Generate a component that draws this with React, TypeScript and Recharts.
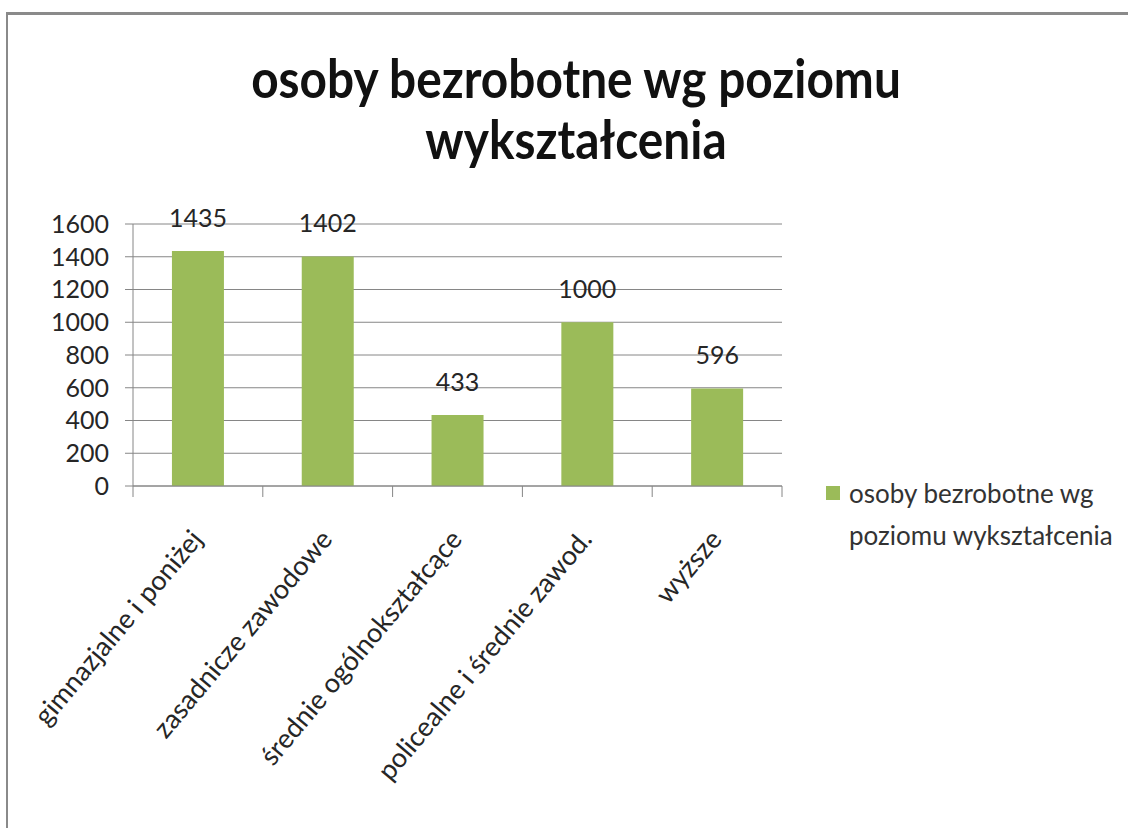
import React from 'react';
import { BarChart, Bar, XAxis, YAxis, CartesianGrid, LabelList } from 'recharts';

const categories = [
  'gimnazjalne i poniżej',
  'zasadnicze zawodowe',
  'średnie ogólnokształcące',
  'policealne i średnie zawod.',
  'wyższe',
];
const values = [1435, 1402, 433, 1000, 596];
const yTicks = [0, 200, 400, 600, 800, 1000, 1200, 1400, 1600];
const boundaryTicks = [0, 0.5, 1, 1.5, 2, 2.5, 3, 3.5, 4, 4.5, 5];
const seriesName = 'osoby bezrobotne wg poziomu wykształcenia';
const titleLines = ['osoby bezrobotne wg poziomu', 'wykształcenia'];
const legendLines = ['osoby bezrobotne wg', 'poziomu wykształcenia'];

// pos = centre of each category on a 0..N boundary scale
const data = categories.map((name, i) => ({ name, pos: i + 0.5, value: values[i] }));

const FONT = 'Lato, "Open Sans", sans-serif';
const GREEN = '#9bbb59';
const AXIS = '#868686';

const BoundaryTick = (props: any) => {
  const { x, y, payload } = props;
  const v = payload.value as number;
  if (Number.isInteger(v)) {
    return <line x1={x} y1={y} x2={x} y2={y + 11} stroke={AXIS} strokeWidth={1} />;
  }
  const label = categories[Math.floor(v)];
  const ax = x + 6;
  const ay = y + 54;
  return (
    <text
      x={ax}
      y={ay}
      transform={`rotate(-50 ${ax} ${ay})`}
      textAnchor="end"
      fontFamily={FONT}
      fontSize={27}
      fill="#262626"
    >
      {label}
    </text>
  );
};

export default function App() {
  return (
    <div style={{ position: 'absolute', left: 0, top: 0, width: 1128, height: 828, overflow: 'hidden', background: '#fff' }}>
      <div
        style={{
          position: 'absolute',
          left: 6,
          top: 12,
          width: 1200,
          height: 900,
          borderTop: '3px solid #8a8a8a',
          borderLeft: '2px solid #8a8a8a',
        }}
      />
      <div
        style={{
          position: 'absolute',
          left: 0,
          width: 1152,
          top: 47,
          textAlign: 'center',
          fontFamily: FONT,
          fontWeight: 700,
          fontSize: 54,
          lineHeight: '61px',
          color: '#111',
          transform: 'scaleX(0.885)',
          transformOrigin: '576px 0',
        }}
      >
        {titleLines.map((t) => (
          <div key={t}>{t}</div>
        ))}
      </div>
      <div style={{ position: 'absolute', left: 0, top: 0 }}>
        <BarChart
          width={1128}
          height={828}
          data={data}
          margin={{ top: 224, right: 346, bottom: 142, left: 53 }}
          barCategoryGap="30%"
        >
          <CartesianGrid vertical={false} stroke={AXIS} xAxisId="cat" />
          <XAxis xAxisId="cat" dataKey="name" type="category" hide height={0} />
          <XAxis
            xAxisId="num"
            dataKey="pos"
            type="number"
            domain={[0, 5]}
            allowDataOverflow
            ticks={boundaryTicks}
            interval={0}
            height={200}
            tickSize={0}
            tickMargin={0}
            tickLine={false}
            axisLine={{ stroke: AXIS }}
            tick={<BoundaryTick />}
          />
          <YAxis
            width={80}
            domain={[0, 1600]}
            ticks={yTicks}
            interval={0}
            tickSize={8}
            tickMargin={16}
            axisLine={{ stroke: AXIS }}
            tickLine={{ stroke: AXIS }}
            tick={{ fontFamily: FONT, fontSize: 25, fill: '#262626' }}
          />
          <Bar xAxisId="cat" dataKey="value" name={seriesName} fill={GREEN} isAnimationActive={false}>
            <LabelList
              dataKey="value"
              position="top"
              offset={24}
              style={{ fontFamily: FONT, fontSize: 25, fill: '#262626' }}
            />
          </Bar>
        </BarChart>
      </div>
      <div style={{ position: 'absolute', left: 826, top: 472, fontFamily: FONT, fontSize: 26, color: '#333', lineHeight: '42px' }}>
        <div style={{ display: 'flex', alignItems: 'center' }}>
          <span style={{ display: 'inline-block', width: 14, height: 14, background: GREEN, marginRight: 9 }} />
          <span>{legendLines[0]}</span>
        </div>
        <div style={{ paddingLeft: 23 }}>{legendLines[1]}</div>
      </div>
    </div>
  );
}
